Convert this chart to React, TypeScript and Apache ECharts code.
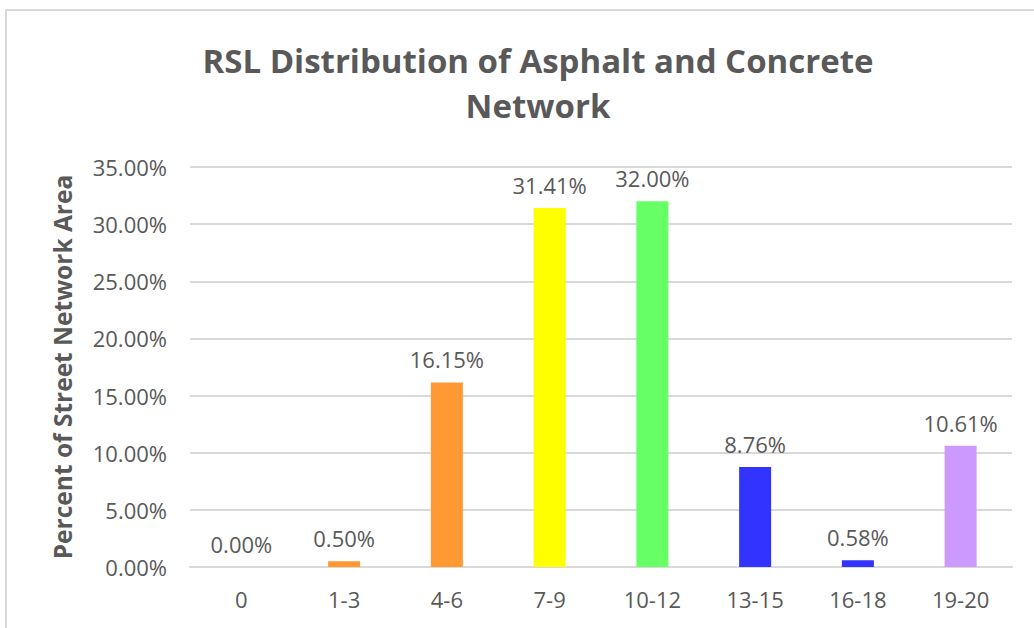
import React, { useEffect, useRef } from "react";
import * as echarts from "echarts";

const categories = ["0", "1-3", "4-6", "7-9", "10-12", "13-15", "16-18", "19-20"];
const values = [0.0, 0.5, 16.15, 31.41, 32.0, 8.76, 0.58, 10.61];
const barColors = ["#FF9933", "#FF9933", "#FF9933", "#FFFF00", "#66FF66", "#3333FF", "#3333FF", "#CC99FF"];
const yTicks = { min: 0, max: 35, interval: 5 };
const titleText = "RSL Distribution of Asphalt and Concrete\nNetwork";
const yAxisName = "Percent of Street Network Area";

export default function App() {
  const ref = useRef<HTMLDivElement>(null);
  useEffect(() => {
    if (!ref.current) return;
    const chart = echarts.init(ref.current, null, { renderer: "svg" });
    const textColor = "#595959";
    const font = "Open Sans";
    chart.setOption({
      animation: false,
      backgroundColor: "#ffffff",
      title: {
        text: titleText,
        left: 533,
        top: 33,
        textAlign: "center",
        textStyle: {
          fontFamily: font,
          fontWeight: "bold",
          fontSize: 33,
          lineHeight: 45,
          color: textColor,
        },
      },
      grid: { left: 190, right: 22, top: 167, bottom: 61, containLabel: false },
      xAxis: {
        type: "category",
        data: categories,
        axisLine: { show: true, lineStyle: { color: "#d9d9d9", width: 2 } },
        axisTick: { show: false },
        axisLabel: { color: textColor, fontFamily: font, fontSize: 22, margin: 21 },
      },
      yAxis: {
        type: "value",
        min: yTicks.min,
        max: yTicks.max,
        interval: yTicks.interval,
        name: yAxisName,
        nameLocation: "middle",
        nameGap: 115,
        nameTextStyle: { color: textColor, fontFamily: font, fontSize: 24.5, fontWeight: "bold" },
        axisLine: { show: false },
        axisTick: { show: false },
        splitLine: { lineStyle: { color: "#d9d9d9", width: 2 } },
        axisLabel: {
          color: textColor,
          fontFamily: font,
          fontSize: 22,
          margin: 23,
          formatter: (v: number) => v.toFixed(2) + "%",
        },
      },
      series: [
        {
          type: "bar",
          barWidth: 32,
          data: values.map((v, i) => ({ value: v, itemStyle: { color: barColors[i] } })),
          label: {
            show: true,
            position: "top",
            distance: 12,
            color: textColor,
            fontFamily: font,
            fontSize: 22,
            formatter: (p: any) => Number(p.value).toFixed(2) + "%",
          },
        },
      ],
      graphic: [
        { type: "line", shape: { x1: 5, y1: 10, x2: 1034, y2: 10 }, style: { stroke: "#d9d9d9", lineWidth: 2 } },
        { type: "line", shape: { x1: 6, y1: 10, x2: 6, y2: 628 }, style: { stroke: "#d9d9d9", lineWidth: 2 } },
      ],
    });
    return () => chart.dispose();
  }, []);
  return <div ref={ref} style={{ position: "fixed", left: 0, top: 0, width: 1034, height: 628 }} />;
}
